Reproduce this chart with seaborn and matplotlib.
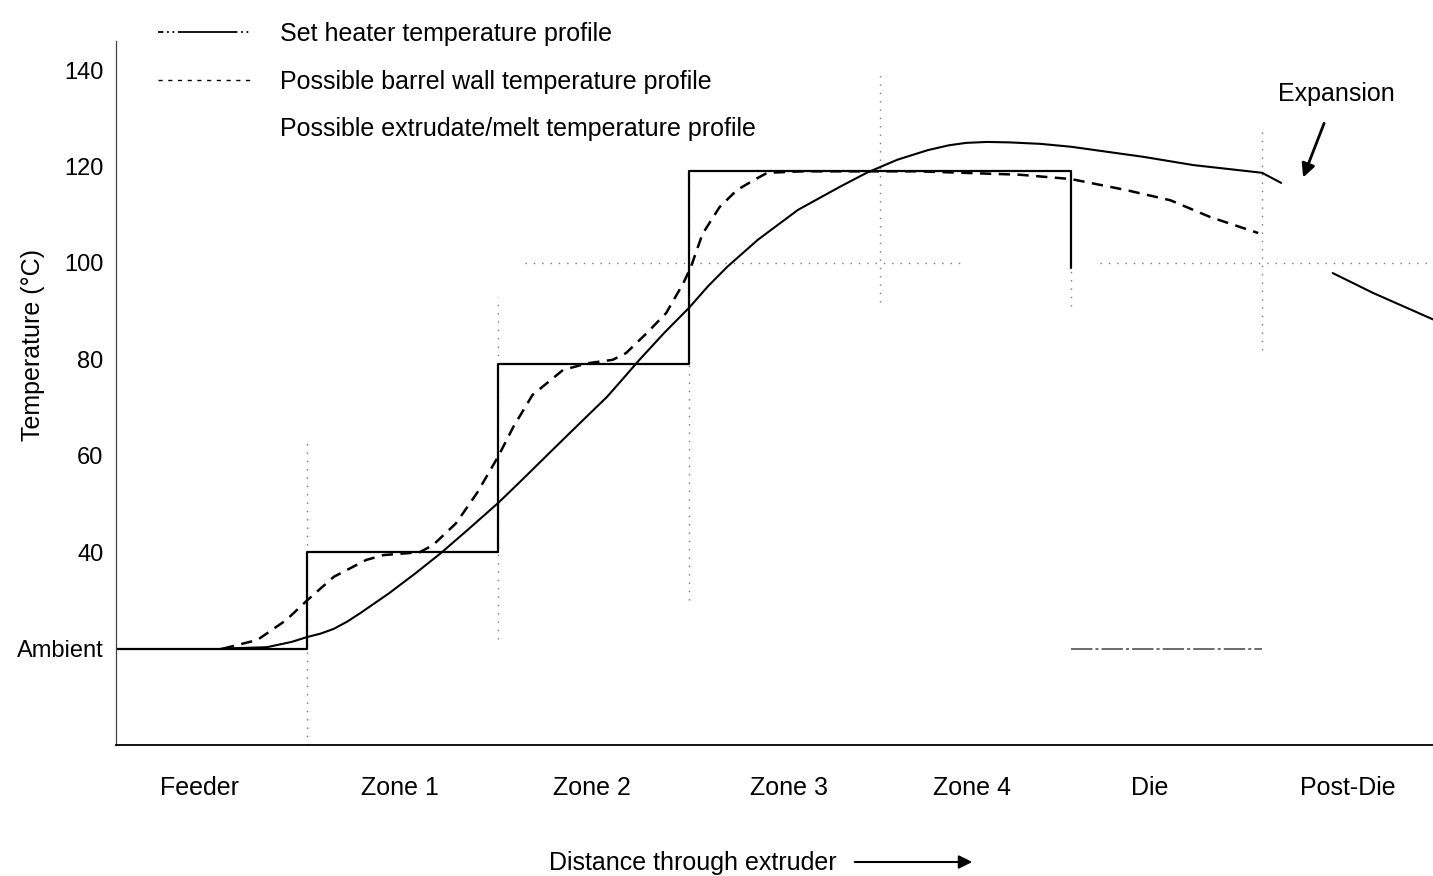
import matplotlib
matplotlib.use("Agg")
import matplotlib.pyplot as plt
from matplotlib.lines import Line2D
import seaborn as sns
import pandas as pd

# ---- data (x in zone units along the extruder, y in °C) ----
zones = ["Feeder", "Zone 1", "Zone 2", "Zone 3", "Zone 4", "Die", "Post-Die"]
temp_ticks = [20, 40, 60, 80, 100, 120, 140]
temp_tick_labels = ["Ambient", "40", "60", "80", "100", "120", "140"]

heater_x = [0, 1, 1, 2, 2, 3, 3, 5, 5]
heater_y = [20, 20, 40, 40, 79, 79, 119, 119, 99]
die_heater_x = [5, 6]
die_heater_y = [20, 20]

barrel_x = [0.56, 0.74, 0.89, 1.0, 1.14, 1.31, 1.40, 1.59, 1.66, 1.78, 1.89, 2.0,
            2.08, 2.18, 2.34, 2.47, 2.60, 2.67, 2.78, 2.88, 2.97, 3.01, 3.07, 3.16,
            3.25, 3.34, 3.41, 3.6, 4.2, 4.73, 5.0, 5.29, 5.52, 5.73, 5.98]
barrel_y = [20, 21.8, 25.9, 30, 34.9, 38.4, 39.4, 40, 41.5, 46, 52.3, 59.8,
            66, 72.6, 77.8, 79.2, 79.9, 81.3, 85.5, 89.6, 95.8, 99.2, 106, 111.6,
            115.1, 117.2, 118.7, 119, 119, 118.3, 117.4, 115.1, 113, 109.5, 106.2]

melt_x = [0.55, 0.79, 0.92, 1.0, 1.07, 1.14, 1.21, 1.28, 1.43, 1.57, 1.70, 1.84,
          2.0, 2.11, 2.3, 2.45, 2.57, 2.65, 2.74, 2.87, 3.0, 3.10, 3.20, 3.36,
          3.57, 3.79, 3.93, 4.09, 4.25, 4.36, 4.45, 4.56, 4.68, 4.84, 5.0, 5.38,
          5.64, 6.0, 6.10]
melt_y = [20, 20.3, 21.4, 22.4, 23.1, 24.1, 25.6, 27.4, 31.5, 35.7, 39.8, 44.6,
          50.2, 54.4, 61.8, 67.6, 72.2, 75.8, 79.9, 85.5, 90.7, 95.2, 99.2, 104.8,
          111, 115.8, 118.7, 121.4, 123.4, 124.4, 124.9, 125.1, 125, 124.7, 124.1, 122,
          120.3, 118.7, 116.6]

postdie_x = [6.37, 6.58, 6.90]
postdie_y = [97.9, 93.8, 88.2]

# ---- style ----
sns.set_style("white")
plt.rcParams["font.family"] = ["Liberation Sans", "DejaVu Sans"]
plt.rcParams["text.color"] = "black"
plt.rcParams["axes.labelcolor"] = "black"
plt.rcParams["xtick.color"] = "black"
plt.rcParams["ytick.color"] = "black"
FS = 18

fig = plt.figure(figsize=(14.33, 8.76), dpi=100)
ax = fig.add_axes([0.081, 0.1495, 0.919, 0.8035])

line_kw = dict(estimator=None, sort=False, ax=ax, legend=False)

# faint dotted zone guides
guide_v = [(1, 0, 63), (2, 22, 93), (3, 30, 119), (4, 92, 140), (5, 91, 99), (6, 82, 128)]
for gx, y0, y1 in guide_v:
    ax.vlines(gx, y0, y1, colors="#777777", linestyles=(0, (1, 5)), linewidth=1.0)
for x0, x1 in [(2.14, 4.45), (5.15, 6.9)]:
    ax.hlines(100, x0, x1, colors="#777777", linestyles=(0, (1, 5)), linewidth=1.0)

# set heater profile (step)
sns.lineplot(data=pd.DataFrame({"x": heater_x, "y": heater_y}), x="x", y="y",
             color="black", linewidth=1.6, **line_kw)
sns.lineplot(data=pd.DataFrame({"x": die_heater_x, "y": die_heater_y}), x="x", y="y",
             color="#444444", linewidth=1.1, linestyle=(0, (14, 2, 2, 2)), **line_kw)

# barrel wall temperature
sns.lineplot(data=pd.DataFrame({"x": barrel_x, "y": barrel_y}), x="x", y="y",
             color="black", linewidth=1.8, **line_kw)
ax.lines[-1].set_dashes((4.5, 3))

# extrudate / melt temperature
sns.lineplot(data=pd.DataFrame({"x": melt_x, "y": melt_y}), x="x", y="y",
             color="black", linewidth=1.5, **line_kw)
sns.lineplot(data=pd.DataFrame({"x": postdie_x, "y": postdie_y}), x="x", y="y",
             color="black", linewidth=1.5, **line_kw)

# axes
ax.set_xlim(0, 6.895)
ax.set_ylim(0, 146)
ax.set_yticks(temp_ticks)
ax.set_yticklabels(temp_tick_labels, fontsize=17)
ax.tick_params(axis="y", direction="inout", length=10, width=0.8, pad=4)
ax.set_xticks([0.435, 1.487, 2.492, 3.524, 4.482, 5.414, 6.45])
ax.set_xticklabels(zones, fontsize=FS)
ax.tick_params(axis="x", length=0, pad=22)
for s in ["top", "right"]:
    ax.spines[s].set_visible(False)
ax.spines["left"].set_color("#444444")
ax.spines["left"].set_linewidth(0.9)
ax.spines["bottom"].set_color("black")
ax.spines["bottom"].set_linewidth(1.3)

ax.set_ylabel("Temperature (°C)", fontsize=FS)
ax.yaxis.set_label_coords(-0.054, 0.568)
ax.set_xlabel("Distance through extruder", fontsize=FS, va="center")
ax.xaxis.set_label_coords(0.438, -0.168)
ax.annotate("", xy=(975, 14), xycoords="figure pixels", xytext=(852, 14),
            textcoords="figure pixels",
            arrowprops=dict(arrowstyle="-|>", color="black", lw=1.5, mutation_scale=20))

# expansion note
ax.text(6.39, 135, "Expansion", fontsize=FS, ha="center", va="center")
ax.annotate("", xy=(6.21, 117.2), xytext=(6.33, 129.5),
            arrowprops=dict(arrowstyle="-|>", color="black", lw=2, mutation_scale=20))

# legend
handles = [
    Line2D([], [], color="black", linewidth=1.3, linestyle=(0, (3, 2, 1, 2, 1, 2, 30, 0))),
    Line2D([], [], color="black", linewidth=1.0, linestyle=(0, (3, 4))),
    Line2D([], [], color="none"),
]
labels = ["Set heater temperature profile",
          "Possible barrel wall temperature profile",
          "Possible extrudate/melt temperature profile"]
fig.legend(handles, labels, loc="upper left", bbox_to_anchor=(0.110, 0.975),
           frameon=False, fontsize=FS, handlelength=3.7, handletextpad=1.2,
           labelspacing=0.95, borderpad=0, borderaxespad=0)

fig.savefig("out.png", dpi=100)
